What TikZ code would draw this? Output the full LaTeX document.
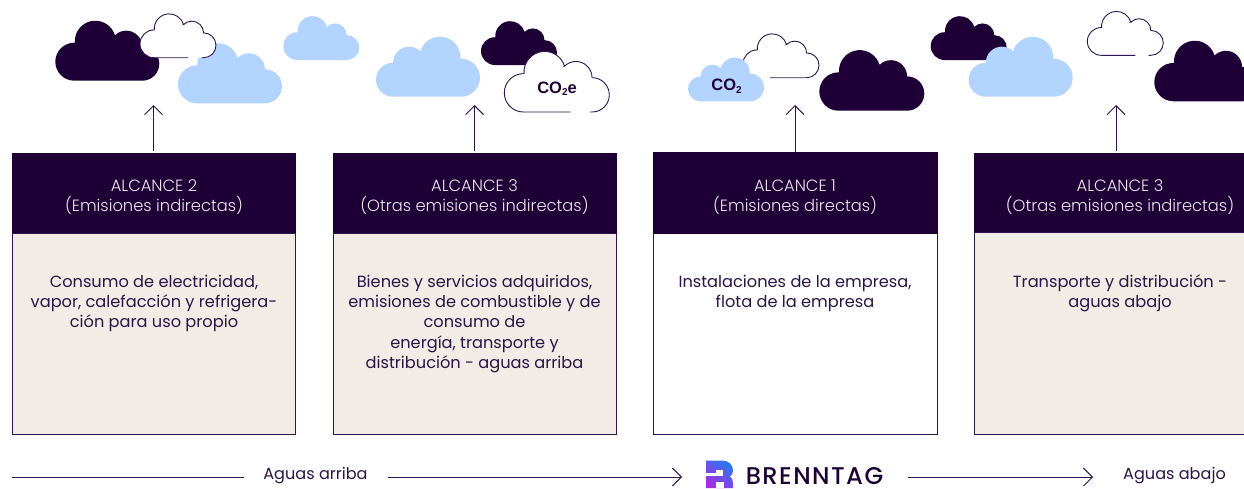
\documentclass[tikz,border=0pt]{standalone}
\usepackage{fontspec}
\setmainfont{Poppins}
\newfontfamily\poplight{Poppins}[UprightFont=* Light]
\newfontfamily\popmed{Poppins}[UprightFont=* Medium,LetterSpace=6]
\newfontfamily\sansbold{Liberation Sans}[Scale=1]
\usetikzlibrary{arrows.meta}
\definecolor{ink}{HTML}{1F0036}
\definecolor{bodyink}{HTML}{2B1446}
\definecolor{lineink}{HTML}{2E1550}
\definecolor{sky}{HTML}{B3D4FF}
\definecolor{sand}{HTML}{F1ECE6}
\definecolor{headtext}{HTML}{EDE6F2}
\definecolor{logoblue}{HTML}{2A78F2}
\definecolor{logopurple}{HTML}{A42EE2}
\newcommand\cloudbody{arc[start angle=270,end angle=90,radius=19pt] -- (19.55,38.07) arc[start angle=184,end angle=16.6,radius=20.5pt] -- (59.6,45.35) arc[start angle=135,end angle=0,radius=16pt] -- (87,34) arc[start angle=90,end angle=-90,radius=17pt]}
% x-left, y-bottom, width, direction, options
\newcommand\cloudfill[5]{\begin{scope}[shift={(#1+#3/2,#2)},x=1pt,y=1pt,xscale=#4*#3/104,yscale=#3/104]
\path[#5] [shift={(-52,0)}] (19,0) \cloudbody -- cycle;
\end{scope}}
% x-left, y-bottom, width, gap start, gap end
\newcommand\cloudopen[5]{\begin{scope}[shift={(#1,#2)},x=1pt,y=1pt,xscale=#3/104,yscale=#3/104]
\path[fill=white] (19,0) \cloudbody -- cycle;
\draw[outline] (#4,0) -- (19,0) \cloudbody -- (#5,0);
\end{scope}}
\tikzset{
  outline/.style={draw=lineink,line width=0.9pt,line cap=butt},
  darkcloud/.style={fill=ink},
  lightcloud/.style={fill=sky},
  headbox/.style={draw=none,fill=ink,minimum height=80pt,inner sep=0pt},
  bodybox/.style={draw=lineink,line width=0.9pt,inner sep=0pt},
  headlabel/.style={text=headtext,align=center,font=\poplight\fontsize{16.3}{20}\selectfont,inner sep=0pt},
  bodylabel/.style={text=bodyink,align=center,font=\fontsize{16.2}{20.3}\selectfont,inner sep=0pt,anchor=north},
  uparrow/.style={-{Straight Barb[length=9pt,width=18pt,line width=0.9pt]},draw=lineink,line width=0.9pt},
  flowline/.style={draw=lineink,line width=0.9pt},
  flowarrow/.style={flowline,-{Straight Barb[length=9pt,width=18pt,line width=0.9pt]}},
  flowlabel/.style={text=bodyink,font=\fontsize{16.1}{18}\selectfont,inner sep=0pt},
  co/.style={text=ink,font=\sansbold\bfseries\fontsize{16.5}{18}\selectfont,inner sep=0pt}
}
\begin{document}
\begin{tikzpicture}[x=1pt,y=-1pt]
\useasboundingbox (0,0) rectangle (1244,488);
\clip (0,0) rectangle (1244,488);
% clouds, first group
\cloudfill{55.3}{80.7}{104}{1}{darkcloud}
\cloudfill{178}{103.3}{104}{1}{lightcloud}
\cloudopen{140}{57.7}{76}{65.7}{83.9}
\cloudfill{283.3}{60}{76}{1}{lightcloud}
% second group
\cloudfill{376}{96.7}{104}{-1}{lightcloud}
\cloudfill{481}{65}{76}{1}{darkcloud}
\cloudopen{504.3}{112}{105}{65.8}{84.8}
\node[co] (co2e) at (557,88.5) {CO\raisebox{-2.5pt}{\fontsize{10}{10}\selectfont 2}e};
% third group
\cloudopen{743}{77.7}{76}{19}{37}
\cloudfill{688}{101.3}{76}{-1}{lightcloud}
\node[co] (co2) at (726.5,86.3) {CO\raisebox{-2.5pt}{\fontsize{10}{10}\selectfont 2}};
\cloudfill{819.3}{110.7}{105}{1}{darkcloud}
% fourth group
\cloudfill{930.7}{60}{76}{1}{darkcloud}
\cloudfill{968.7}{96.7}{104}{-1}{lightcloud}
\cloudopen{1087.3}{55.3}{76}{65.7}{83.9}
\cloudfill{1154.3}{101.3}{105}{1}{darkcloud}
% boxes
\node[bodybox,fill=sand,minimum width=283pt,minimum height=201pt] (body1) at (154,334) {};
\node[bodybox,fill=sand,minimum width=283pt,minimum height=201pt] (body2) at (474.5,334) {};
\node[bodybox,fill=white,minimum width=284pt,minimum height=201pt] (body3) at (795.5,334) {};
\node[bodybox,fill=sand,minimum width=292pt,minimum height=202pt] (body4) at (1120,333.5) {};
\node[headbox,minimum width=284pt] (head1) at (154,193) {};
\node[headbox,minimum width=284pt] (head2) at (474.5,193) {};
\node[headbox,minimum width=285pt,minimum height=82pt] (head3) at (795.5,193) {};
\node[headbox,minimum width=292pt,minimum height=79pt] (head4) at (1120,192.5) {};
% header labels
\node[headlabel] (hl1) at (154,197) {ALCANCE 2\\(Emisiones indirectas)};
\node[headlabel] (hl2) at (474.5,197) {ALCANCE 3\\(Otras emisiones indirectas)};
\node[headlabel] (hl3) at (795,197) {ALCANCE 1\\(Emisiones directas)};
\node[headlabel] (hl4) at (1120,197) {ALCANCE 3\\(Otras emisiones indirectas)};
% body labels
\node[bodylabel] (bl1) at (154,274.7) {Consumo de electricidad,\\vapor, calefacción y refrigera-\\ción para uso propio};
\node[bodylabel] (bl2) at (474.5,274.7) {Bienes y servicios adquiridos,\\emisiones de combustible y de\\consumo de\\energía, transporte y\\distribución - aguas arriba};
\node[bodylabel] (bl3) at (795,274.7) {Instalaciones de la empresa,\\flota de la empresa};
\node[bodylabel] (bl4) at (1120,274.7) {Transporte y distribución -\\aguas abajo};
% upward arrows
\coordinate (tip1) at (153.5,105);
\coordinate (tip2) at (474.5,105);
\coordinate (tip3) at (795,105);
\coordinate (tip4) at (1116,105);
\coordinate (foot1) at (153.5,151);
\coordinate (foot2) at (474.5,151);
\coordinate (foot3) at (795,152);
\coordinate (foot4) at (1116,151);
\draw[uparrow] (foot1) -- (tip1);
\draw[uparrow] (foot2) -- (tip2);
\draw[uparrow] (foot3) -- (tip3);
\draw[uparrow] (foot4) -- (tip4);
% bottom flow
\coordinate (f1a) at (12,477);
\coordinate (f1b) at (244,477);
\coordinate (f2a) at (388,477);
\coordinate (f2b) at (682,477);
\coordinate (f3a) at (908,477);
\coordinate (f3b) at (1093,477);
\draw[flowline] (f1a) -- (f1b);
\draw[flowarrow] (f2a) -- (f2b);
\draw[flowarrow] (f3a) -- (f3b);
\node[flowlabel] (up) at (315.5,476) {Aguas arriba};
\node[flowlabel] (down) at (1174.5,476) {Aguas abajo};
% logo
\shade[shading=axis,top color=logoblue,bottom color=logopurple,shading angle=-35]
  (706,488) -- (706,460.5) -- (722,460.5) .. controls (729,460.5) and (733,465) .. (733,470.5)
  .. controls (733,473) and (732,475) .. (730,476.5) .. controls (732,478) and (733,480) .. (733,483) -- (733,488) -- cycle;
\fill[white] (706,472.7) rectangle (722,475.7);
\fill[white] (716,470) rectangle (723,475.7);
\fill[white] (716,482) rectangle (723.5,488);
\node[inner sep=0pt,text=ink,font=\popmed\fontsize{24.2}{25}\selectfont] (brand) at (814.5,476.3) {BRENNTAG};
\end{tikzpicture}
\end{document}
